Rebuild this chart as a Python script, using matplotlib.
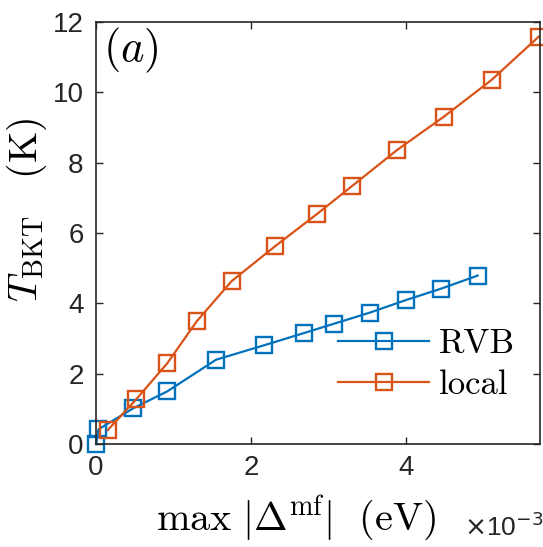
import matplotlib
matplotlib.use('Agg')
import matplotlib.pyplot as plt

# max |Delta^mf| in units of 1e-3 eV, T_BKT in K
rvb_x = [0, 0.03, 0.48, 0.92, 1.55, 2.17, 2.69, 3.07, 3.54, 4.01, 4.46, 4.93]
rvb_y = [0, 0.42, 1.02, 1.50, 2.40, 2.81, 3.16, 3.42, 3.74, 4.10, 4.42, 4.79]
local_x = [0.15, 0.52, 0.92, 1.30, 1.75, 2.31, 2.86, 3.31, 3.89, 4.49, 5.11, 5.72]
local_y = [0.40, 1.28, 2.30, 3.49, 4.63, 5.62, 6.55, 7.34, 8.36, 9.30, 10.35, 11.58]
xticks = [0, 2, 4]
yticks = [0, 2, 4, 6, 8, 10, 12]

plt.rcParams['font.family'] = ['Liberation Sans', 'DejaVu Sans']
plt.rcParams['mathtext.fontset'] = 'cm'

fig = plt.figure(figsize=(5.43, 5.47), dpi=100)
ax = fig.add_axes([0.177, 0.188, 0.818, 0.772])

ax.plot(rvb_x, rvb_y, color='#0072BD', lw=1.6, marker='s', ms=11,
        mfc='none', mew=1.7, label='RVB', clip_on=False)
ax.plot(local_x, local_y, color='#D95319', lw=1.6, marker='s', ms=11,
        mfc='none', mew=1.7, label='local', clip_on=False)

ax.set_xlim(0, 5.74)
ax.set_ylim(0, 12)
ax.set_xticks(xticks)
ax.set_yticks(yticks)
ax.tick_params(direction='in', length=5, width=1, top=True, right=True,
               labelsize=20, colors='#262626')
ax.tick_params(axis='y', pad=9)
ax.tick_params(axis='x', pad=8)
for s in ax.spines.values():
    s.set_linewidth(1.2)
    s.set_color('#262626')

ax.set_ylabel(r'$T_{\rm BKT}\ \ \ \mathrm{(K)}$', fontsize=29)
ax.yaxis.set_label_coords(-0.105, 0.555)
ax.set_xlabel(r'$\max\ |\Delta^{\rm mf}|\ \ \mathrm{(eV)}$', fontsize=29)
ax.xaxis.set_label_coords(0.45, -0.118)
ax.text(1.008, -0.218, r'$\times$10$^{-3}$', transform=ax.transAxes,
        fontsize=19, ha='right', va='baseline', color='#262626',
        math_fontfamily='dejavusans')
ax.text(0.015, 0.99, r'$(a)$', transform=ax.transAxes, fontsize=32, va='top', ha='left')

ax.legend(loc='lower right', bbox_to_anchor=(0.975, 0.07), frameon=False,
          prop={'family': 'cmr10', 'size': 25}, handlelength=2.6,
          handletextpad=0.3, labelspacing=0.25, borderaxespad=0)

fig.savefig('out.png', dpi=100)
